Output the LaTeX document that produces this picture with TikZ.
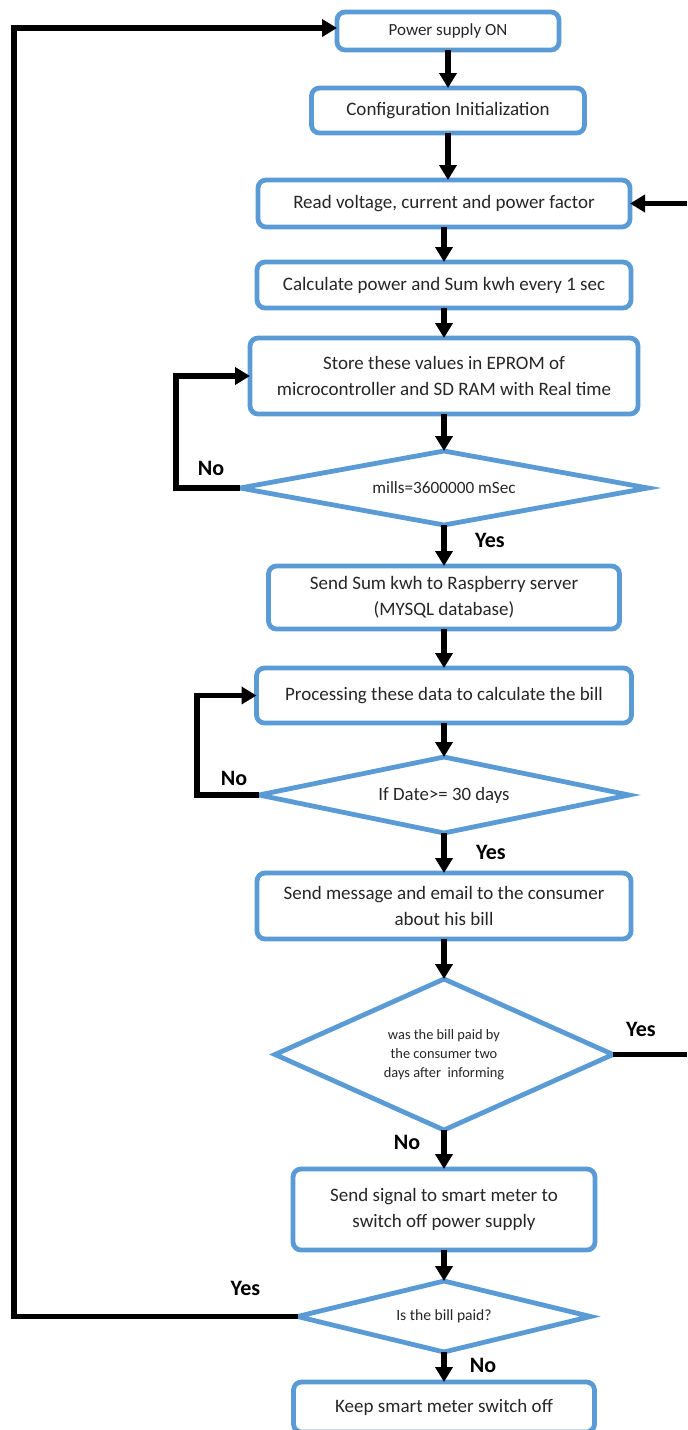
\documentclass[tikz,border=0pt]{standalone}
\usepackage{fontspec}
\setmainfont{Carlito}
\usepackage{xcolor}
\usepackage{tikz}
\usetikzlibrary{positioning,shapes.geometric,arrows.meta}
\definecolor{boxblue}{HTML}{5B9BD5}

\begin{document}
\begin{tikzpicture}[
  node distance=17pt,
  process/.style={rectangle, rounded corners=4pt, draw=boxblue, line width=2.4pt, fill=white, align=center, inner sep=2pt, outer sep=0pt, text=black!85, font=\fontsize{9.5}{13}\selectfont},
  decision/.style={diamond, shape aspect=3, draw=boxblue, line width=2.4pt, fill=white, align=center, inner sep=0pt, outer sep=0pt, text=black!85},
  arrow/.style={-{Triangle[length=7.5pt,width=8.5pt]}, line width=2.7pt},
  link/.style={line width=2.7pt},
  lbl/.style={font=\bfseries\fontsize{11}{13}\selectfont},
]
  \useasboundingbox (0,0) rectangle (343.5pt,-715pt);
  \coordinate (lft) at (7pt,0);
  \coordinate (rgt) at (343.5pt,0);

  \node[process, minimum width=111pt, minimum height=19pt, font=\fontsize{8.5}{10}\selectfont] (power) at (224pt,-15.5pt) {Power supply ON};
  \node[process, below=19pt of power, minimum width=136.5pt, minimum height=22.5pt] (config) {Configuration Initialization};
  \node[process, below=23.5pt of config, xshift=-2pt, minimum width=186pt, minimum height=23.5pt] (read) {Read voltage, current and power factor};
  \node[process, below=17.5pt of read, minimum width=187pt, minimum height=23pt] (calc) {Calculate power and Sum kwh every 1 sec};
  \node[process, below=15pt of calc, minimum width=194pt, minimum height=38pt] (store) {Store these values in EPROM of\\microcontroller and SD RAM with Real time};
  \node[decision, below=18.5pt of store, minimum width=204pt, minimum height=37pt, font=\fontsize{8.6}{10}\selectfont] (mills) {mills=3600000 mSec};
  \node[process, below=20.5pt of mills, minimum width=175.5pt, minimum height=31.5pt] (send) {Send Sum kwh to Raspberry server\\(MYSQL database)};
  \node[process, below=19.5pt of send, minimum width=187.5pt, minimum height=27.5pt] (bill) {Processing these data to calculate the bill};
  \node[decision, below=17pt of bill, minimum width=185pt, minimum height=38pt, font=\fontsize{9.4}{11}\selectfont] (date) {If Date>= 30 days};
  \node[process, below=20pt of date, minimum width=187pt, minimum height=33pt] (notify) {Send message and email to the consumer\\about his bill};
  \node[decision, below=20pt of notify, minimum width=169pt, minimum height=75.5pt, font=\fontsize{7.2}{9.5}\selectfont] (twodays) {was the bill paid by\\the consumer two\\days after\ \ informing};
  \node[process, below=19.5pt of twodays, minimum width=151pt, minimum height=40.5pt] (cutoff) {Send signal to smart meter to\\switch off power supply};
  \node[decision, below=15.5pt of cutoff, minimum width=146.5pt, minimum height=35.5pt, font=\fontsize{7.8}{9}\selectfont] (paid) {Is the bill paid?};
  \node[process, below=15pt of paid, minimum width=150.5pt, minimum height=25pt] (keep) {Keep smart meter switch off};

  % main column
  \draw[arrow] (power) -- (config);
  \draw[arrow] (config.south) -- (config.south |- read.north);
  \draw[arrow] (read) -- (calc);
  \draw[arrow] (calc) -- (store);
  \draw[arrow] (store) -- (mills);
  \draw[arrow] (mills) -- (send);
  \draw[arrow] (send) -- (bill);
  \draw[arrow] (bill) -- (date);
  \draw[arrow] (date) -- (notify);
  \draw[arrow] (notify) -- (twodays);
  \draw[arrow] (twodays) -- (cutoff);
  \draw[arrow] (cutoff) -- (paid);
  \draw[arrow] (paid) -- (keep);

  % loops back
  \draw[arrow] (mills.west) -- ++(-32pt,0) |- (store.west);
  \draw[arrow] (date.west) -- ++(-31pt,0) |- (bill.west);
  \draw[arrow] (paid.west) -- (paid.west -| lft) |- ([yshift=1.5pt]power.west);
  \draw[link] (twodays.east) -- (twodays.east -| rgt);
  \draw[arrow] (read.east -| rgt) -- (read.east);

  % branch labels
  \node[lbl] (no1) at ([shift={(-14.5pt,10pt)}]mills.west) {No};
  \node[lbl] (yes1) at ([shift={(23pt,-7.5pt)}]mills.south) {Yes};
  \node[lbl] (no2) at ([shift={(-12.5pt,8.5pt)}]date.west) {No};
  \node[lbl] (yes2) at ([shift={(23.5pt,-9.5pt)}]date.south) {Yes};
  \node[lbl] (yes3) at ([shift={(14pt,12.5pt)}]twodays.east) {Yes};
  \node[lbl] (no3) at ([shift={(-18.5pt,-6pt)}]twodays.south) {No};
  \node[lbl] (yes4) at ([shift={(-26pt,14pt)}]paid.west) {Yes};
  \node[lbl] (no4) at ([shift={(19.5pt,-6.5pt)}]paid.south) {No};
\end{tikzpicture}
\end{document}
